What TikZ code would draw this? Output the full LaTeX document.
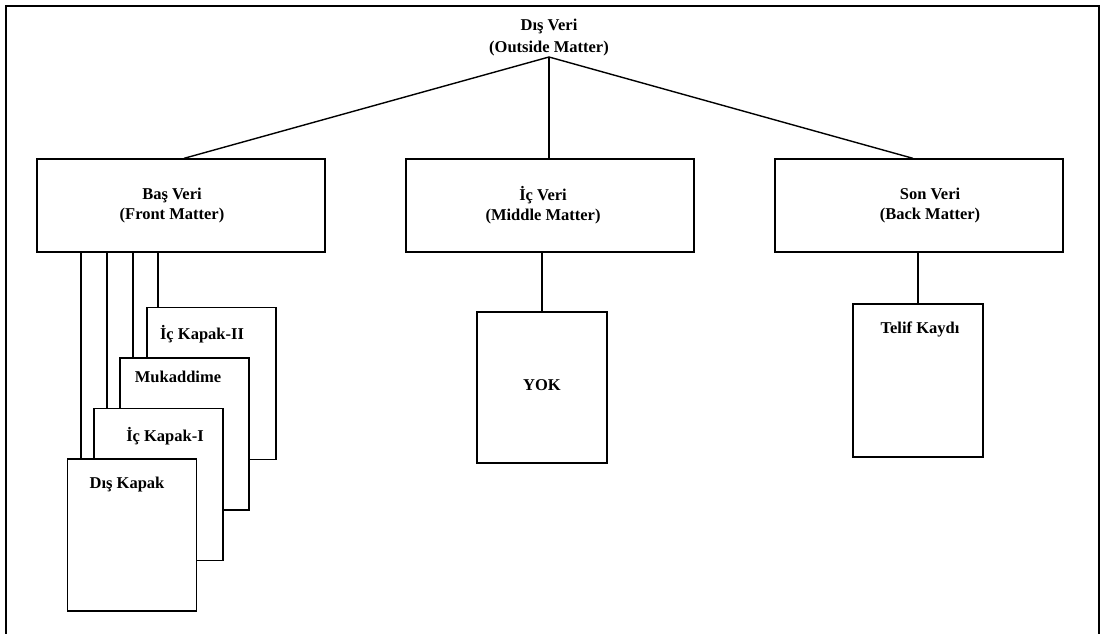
\documentclass[tikz,border=0pt]{standalone}
\usepackage{fontspec}
\setmainfont{Liberation Serif}
\begin{document}
\begin{tikzpicture}[x=1pt,y=-1pt,
  every node/.style={font=\fontsize{16.5}{20}\selectfont\bfseries},
  bigbox/.style={draw, line width=1.3pt, fill=white, minimum width=288pt, minimum height=93pt, align=center, inner sep=0pt},
  card/.style={draw, line width=1.2pt, fill=white, minimum width=129pt, minimum height=152pt, inner sep=0pt},
  lbl/.style={inner sep=0pt, anchor=center},
  conn/.style={line width=1.1pt},
  diag/.style={line width=1.4pt}]
\useasboundingbox (0,0) rectangle (1101,634);
% frame
\draw[line width=2.4pt] (6,640) -- (6,6) -- (1099,6) -- (1099,640);
% title
\node[anchor=south, inner sep=1pt, align=center, font=\fontsize{16.5}{22}\selectfont\bfseries] (title) at (549,57) {Dış Veri\\(Outside Matter)};
% main boxes
\node[bigbox] (front) at (181,205.5) {\hspace*{-18pt}Baş Veri\\\hspace*{-18pt}(Front Matter)};
\node[bigbox] (mid) at (550,205.5) {\hspace*{-14pt}İç Veri\\\hspace*{-14pt}(Middle Matter)};
\node[bigbox] (back) at (919,205.5) {\hspace*{22pt}Son Veri\\\hspace*{22pt}(Back Matter)};
\draw[diag] (title.south) -- ([xshift=3pt]front.north);
\draw[conn] (title.south) -- (title.south |- mid.north);
\draw[diag] (title.south) -- ([xshift=-6pt]back.north);
% front matter cards
\node[card] (k2) at (211.5,383.5) {};
\node[card] (muk) at (184.5,434) {};
\node[card] (k1) at (158.5,484.5) {};
\node[card] (dk) at (132,535) {};
\node[lbl] (k2t) at (202,334) {İç Kapak-II};
\node[lbl] (mukt) at (178,377) {Mukaddime};
\node[lbl] (k1t) at (165,436) {İç Kapak-I};
\node[lbl] (dkt) at (127,485) {Dış Kapak};
\coordinate (f1) at (81,252);
\coordinate (f2) at (107,252);
\coordinate (f3) at (133,252);
\coordinate (f4) at (158,252);
\draw[conn] (f1) -- (f1 |- dk.north);
\draw[conn] (f2) -- (f2 |- k1.north);
\draw[conn] (f3) -- (f3 |- muk.north);
\draw[conn] (f4) -- (f4 |- k2.north);
% middle
\node[card, minimum width=130pt, minimum height=151pt] (yok) at (542,387.5) {};
\node[lbl] (yokt) at (542,385) {YOK};
\draw[conn] (mid.south -| yok.north) -- (yok.north);
% back
\node[card, minimum width=130pt, minimum height=153pt] (telif) at (918,380.5) {};
\node[lbl] (telift) at (920,329) {Telif Kaydı};
\draw[conn] (back.south -| telif.north) -- (telif.north);
\end{tikzpicture}
\end{document}
